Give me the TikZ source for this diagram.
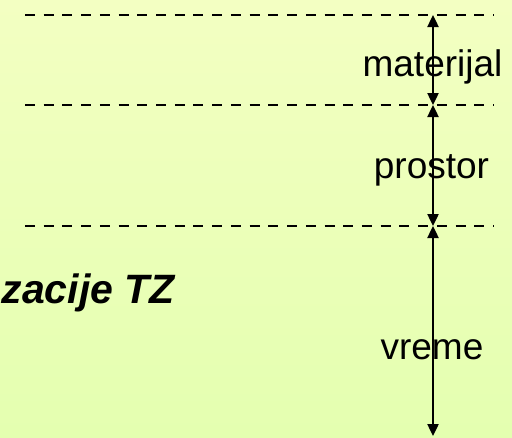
\documentclass[tikz,border=0pt]{standalone}
\usepackage{fontspec}
\setmainfont{Liberation Sans}
\usetikzlibrary{arrows.meta}
\definecolor{bgtop}{RGB}{243,255,194}
\definecolor{bgbot}{RGB}{228,255,176}
\tikzset{
  guide/.style={line width=2.7pt, dash pattern=on 10pt off 8.72pt},
  span/.style={line width=2.4pt, {Triangle[length=12pt,width=11pt]}-{Triangle[length=12pt,width=11pt]}},
  lbl/.style={inner sep=0pt, anchor=base, font=\fontsize{37}{44}\selectfont},
  ttl/.style={inner sep=0pt, anchor=base east, font=\fontsize{41}{48}\selectfont\bfseries\itshape}
}
\begin{document}
\begin{tikzpicture}[x=1pt,y=-1pt]
\useasboundingbox (0,0) rectangle (512,437);
\shade[shading angle=30, top color=bgtop, bottom color=bgbot] (0,0) rectangle (512,437);
% guide lines
\coordinate (l1a) at (25,15);  \coordinate (l1b) at (494,15);
\coordinate (l2a) at (25,105); \coordinate (l2b) at (494,105);
\coordinate (l3a) at (25,226); \coordinate (l3b) at (494,226);
\draw[guide] (l1a) -- (l1b);
\draw[guide] (l2a) -- (l2b);
\draw[guide] (l3a) -- (l3b);
% span arrows
\coordinate (p0) at (433,15);
\coordinate (p1) at (433,105);
\coordinate (p2) at (433,226);
\coordinate (p3) at (433,436);
\draw[span] (p0) -- (p1);
\draw[span] (p1) -- (p2);
\draw[span] (p2) -- (p3);
% labels
\node[lbl] (mat) at (432.5,76) {materijal};
\node[lbl] (pro) at (431.5,178) {prostor};
\node[lbl] (vre) at (432,359) {vreme};
\node[ttl] (tz) at (175,303) {zacije TZ};
\end{tikzpicture}
\end{document}
